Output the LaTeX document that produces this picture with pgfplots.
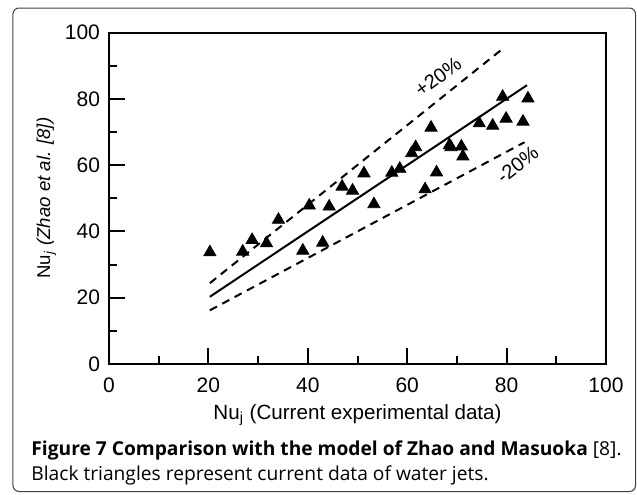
\documentclass[border=0pt]{standalone}
\usepackage{fontspec}
\setmainfont{Liberation Sans}
\newfontfamily\capfont{Open Sans}
\usepackage{pgfplots}
\pgfplotsset{compat=1.18}
\begin{document}
\begin{tikzpicture}
\useasboundingbox (-54.5pt,-65pt) rectangle (264pt,182pt);
\begin{axis}[
 scale only axis, width=248.5pt, height=165.75pt,
 xmin=0,xmax=100,ymin=0,ymax=100,
 xtick={0,20,...,100}, ytick={0,20,...,100},
 minor xtick={10,30,...,90}, minor ytick={10,30,...,90},
 tick align=inside, xtick pos=bottom, ytick pos=left,
 major tick length=8pt, minor tick length=4pt,
 every tick/.style={black, line width=1pt},
 axis line style={line width=1pt},
 ticklabel style={font=\fontsize{10.5}{12}\selectfont},
 xticklabel style={yshift=-3.2pt},
 yticklabel style={xshift=-1pt},
 /pgf/number format/assume math mode=true,
 xlabel={Nu\textsubscript{j} (Current experimental data)},
 ylabel={Nu\textsubscript{\textit{j}} \textit{(Zhao et al. [8])}},
 xlabel style={font=\fontsize{10.3}{12}\selectfont, yshift=1pt},
 ylabel style={font=\fontsize{9.3}{11}\selectfont},
 ylabel shift=-2.5pt,
 clip=false,
]
\addplot[only marks, mark=triangle*, mark size=3.5pt, black] coordinates {
(20.3,33.7) (26.9,33.9) (28.8,37.4) (31.7,36.4) (34.1,43.5) (39.0,34.2)
(40.3,47.8) (43.0,36.6) (44.3,47.5) (46.9,53.5) (49.0,52.3) (51.3,57.5)
(53.3,48.2) (56.9,57.7) (58.5,58.9) (60.9,63.6) (61.7,65.4) (63.6,52.7)
(64.8,71.3) (65.9,57.8) (68.5,66.0) (68.8,65.4) (70.9,65.6) (71.2,62.6)
(74.5,72.6) (77.2,71.9) (79.2,80.6) (79.9,74.0) (83.3,73.1) (84.3,80.1)
};
\addplot[black, line width=1pt] coordinates {(20.3,20.3) (84.1,84.1)};
\addplot[black, line width=1pt, dash pattern=on 4pt off 3pt] coordinates {(20.3,24.4) (78.8,94.6)};
\addplot[black, line width=1pt, dash pattern=on 4pt off 3pt] coordinates {(20.3,16.2) (83.6,66.9)};
\node[rotate=36, font=\fontsize{10}{12}\selectfont] at (axis cs:66.2,86.6) {+20\%};
\node[rotate=38, font=\fontsize{10}{12}\selectfont] at (axis cs:82.2,60.2) {-20\%};
\end{axis}
\draw[rounded corners=3pt, line width=0.5pt, black!75] (-48pt,-63.75pt) rectangle (263.25pt,178pt);
\node[anchor=base west, inner sep=0pt, font=\capfont\fontsize{9.6}{12}\selectfont] at (-39pt,-45.5pt) {\textbf{Figure 7 Comparison with the model of Zhao and Masuoka} [8].};
\node[anchor=base west, inner sep=0pt, font=\capfont\fontsize{9.6}{12}\selectfont] at (-39pt,-58pt) {Black triangles represent current data of water jets.};
\end{tikzpicture}
\end{document}
